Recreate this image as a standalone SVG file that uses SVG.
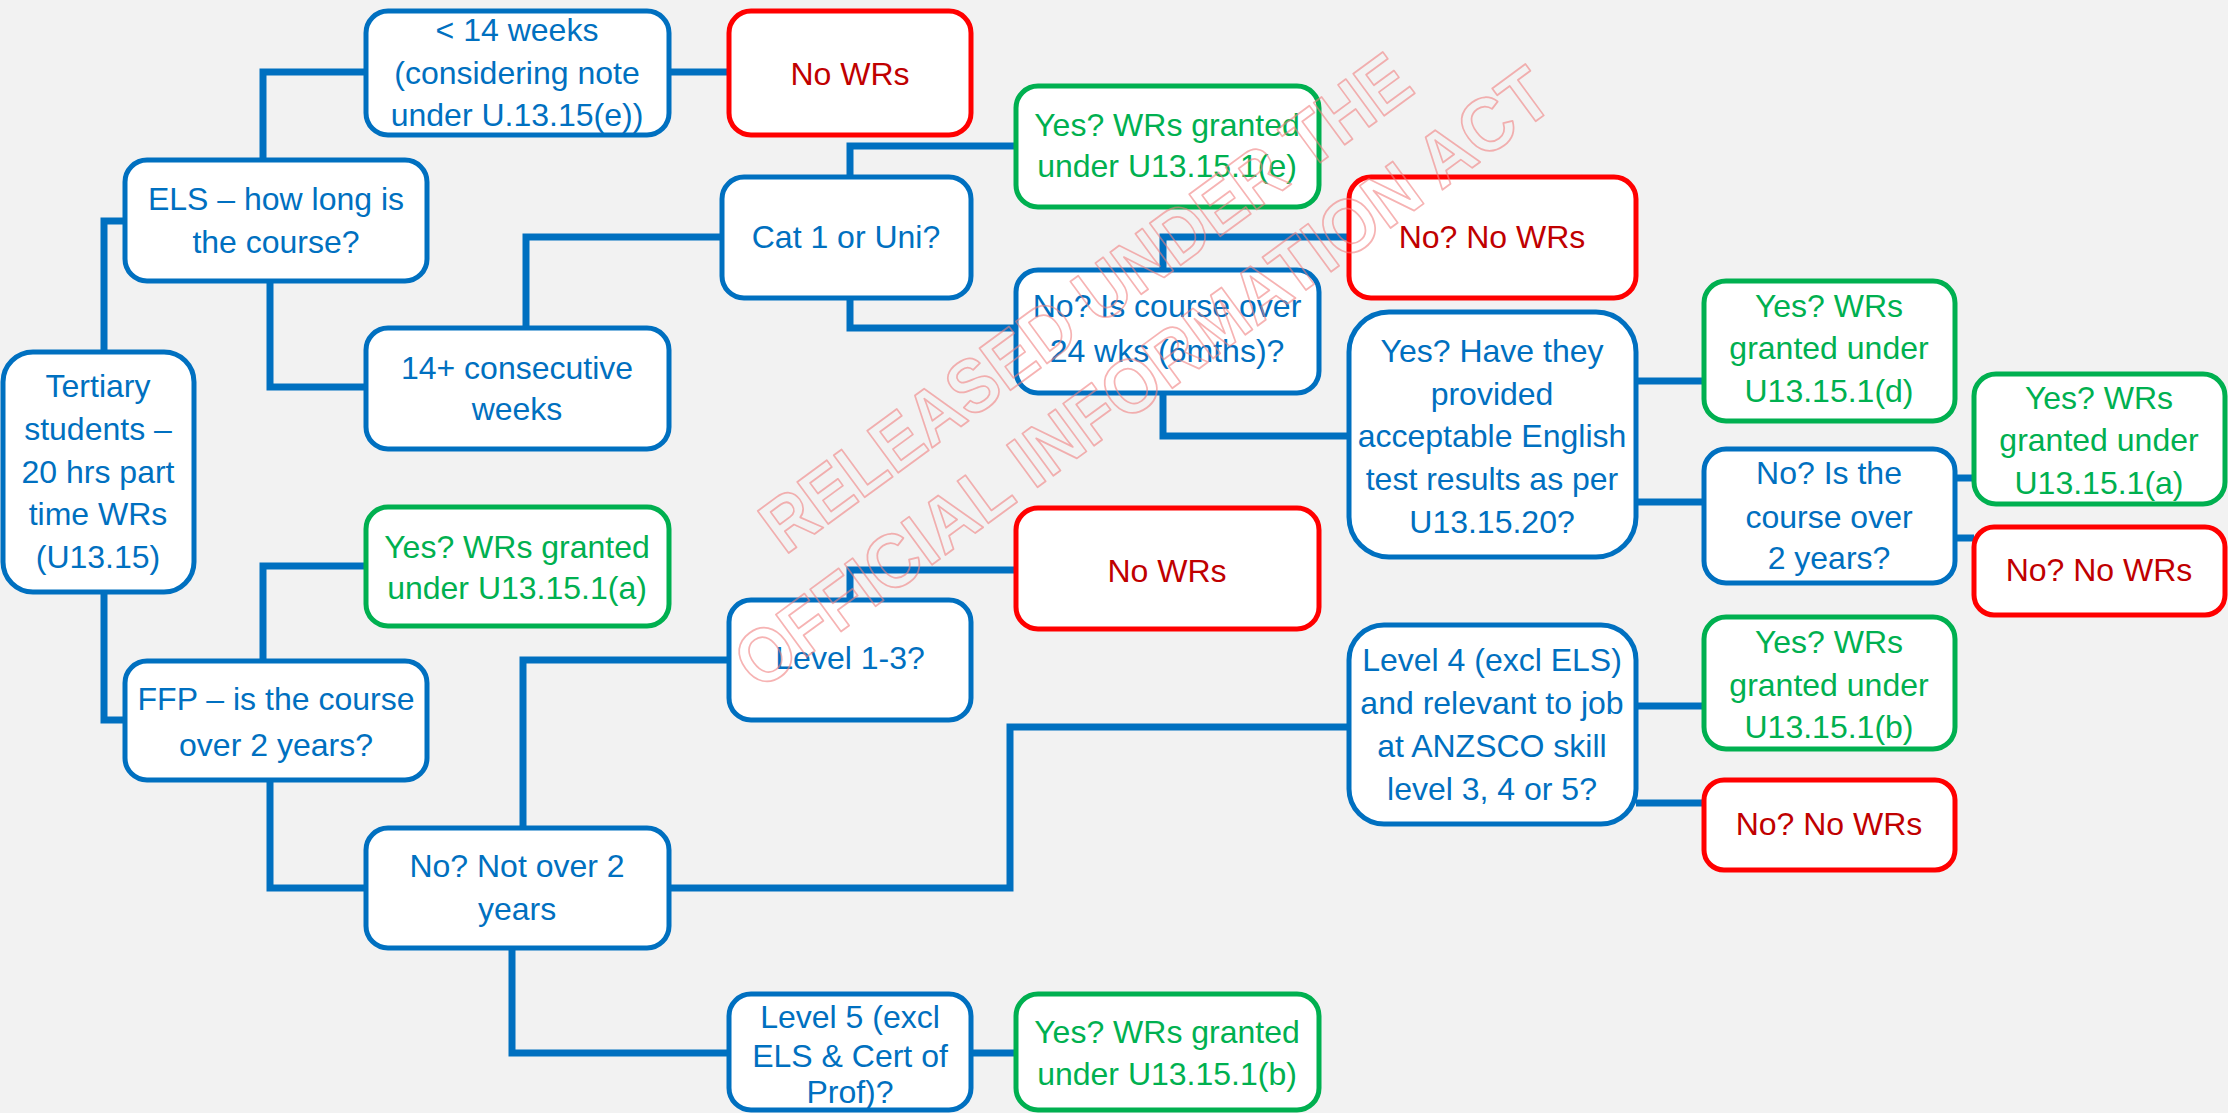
<svg xmlns="http://www.w3.org/2000/svg" width="2228" height="1113" viewBox="0 0 2228 1113">
<style>
.bg{fill:#F2F2F2}
.box{fill:#FFFFFF;stroke-width:5}
.b{stroke:#0070C0}
.g{stroke:#00B050}
.r{stroke:#FF0000}
text{font-family:"Liberation Sans",Arial,sans-serif;font-size:32px;text-anchor:middle}
.tb{fill:#0070C0}
.tg{fill:#00B050}
.tr{fill:#C00000}
.conn path{fill:none;stroke:#0070C0;stroke-width:7;stroke-linejoin:miter}
.wm{font-size:76px;font-weight:bold;fill:none;stroke:#F08080;stroke-opacity:0.6;stroke-width:1.8;stroke-linejoin:round}
</style>
<rect class="bg" x="0" y="0" width="2228" height="1113"/>
<g class="conn" id="connectors">
<path d="M104,352 V221 H125"/>
<path d="M104,592 V720 H125"/>
<path d="M263,160 V72 H366"/>
<path d="M270,281 V387 H366"/>
<path d="M669,72 H729"/>
<path d="M526,328 V237 H722"/>
<path d="M850,177 V146 H1016"/>
<path d="M850,298 V328 H1016"/>
<path d="M1163,270 V237 H1349"/>
<path d="M1163,393 V436 H1349"/>
<path d="M1636,381 H1704"/>
<path d="M1636,502 H1704"/>
<path d="M1955,478 H1974"/>
<path d="M1955,538 H1974"/>
<path d="M263,661 V566 H366"/>
<path d="M270,780 V888 H366"/>
<path d="M523,828 V660 H729"/>
<path d="M850,600 V570 H1016"/>
<path d="M669,888 H1010 V727 H1349"/>
<path d="M512,948 V1053 H729"/>
<path d="M971,1053 H1016"/>
<path d="M1636,706 H1704"/>
<path d="M1636,803 H1704"/>
</g>
<g id="n-tertiary"><rect class="box b" x="3" y="352" width="191" height="240" rx="30"/>
<text class="tb" x="98"><tspan x="98" y="397">Tertiary</tspan><tspan x="98" y="440">students –</tspan><tspan x="98" y="483">20 hrs part</tspan><tspan x="98" y="525">time WRs</tspan><tspan x="98" y="568">(U13.15)</tspan></text></g>
<g id="n-els"><rect class="box b" x="125" y="160" width="302" height="121" rx="22"/>
<text class="tb"><tspan x="276" y="210">ELS – how long is</tspan><tspan x="276" y="253">the course?</tspan></text></g>
<g id="n-lt14"><rect class="box b" x="366" y="11" width="303" height="124" rx="22"/>
<text class="tb"><tspan x="517" y="41">&lt; 14 weeks</tspan><tspan x="517" y="84">(considering note</tspan><tspan x="517" y="126">under U.13.15(e))</tspan></text></g>
<g id="n-nowrs1"><rect class="box r" x="729" y="11" width="242" height="124" rx="22"/>
<text class="tr" x="850" y="85">No WRs</text></g>
<g id="n-14plus"><rect class="box b" x="366" y="328" width="303" height="121" rx="22"/>
<text class="tb"><tspan x="517" y="379">14+ consecutive</tspan><tspan x="517" y="420">weeks</tspan></text></g>
<g id="n-cat1"><rect class="box b" x="722" y="177" width="249" height="121" rx="22"/>
<text class="tb" x="846" y="248">Cat 1 or Uni?</text></g>
<g id="n-yes-e"><rect class="box g" x="1016" y="86" width="303" height="121" rx="22"/>
<text class="tg"><tspan x="1167" y="136">Yes? WRs granted</tspan><tspan x="1167" y="177">under U13.15.1(e)</tspan></text></g>
<g id="n-nonowrs1"><rect class="box r" x="1349" y="177" width="287" height="121" rx="22"/>
<text class="tr" x="1492" y="248">No? No WRs</text></g>
<g id="n-24wks"><rect class="box b" x="1016" y="270" width="303" height="123" rx="22"/>
<text class="tb"><tspan x="1167" y="317">No? Is course over</tspan><tspan x="1167" y="362">24 wks (6mths)?</tspan></text></g>
<g id="n-english"><rect class="box b" x="1349" y="312" width="287" height="245" rx="40"/>
<text class="tb"><tspan x="1492" y="362">Yes? Have they</tspan><tspan x="1492" y="405">provided</tspan><tspan x="1492" y="447">acceptable English</tspan><tspan x="1492" y="490">test results as per</tspan><tspan x="1492" y="533">U13.15.20?</tspan></text></g>
<g id="n-yes-d"><rect class="box g" x="1704" y="281" width="251" height="140" rx="22"/>
<text class="tg"><tspan x="1829" y="317">Yes? WRs</tspan><tspan x="1829" y="359">granted under</tspan><tspan x="1829" y="402">U13.15.1(d)</tspan></text></g>
<g id="n-over2"><rect class="box b" x="1704" y="449" width="251" height="134" rx="22"/>
<text class="tb"><tspan x="1829" y="484">No? Is the</tspan><tspan x="1829" y="528">course over</tspan><tspan x="1829" y="569">2 years?</tspan></text></g>
<g id="n-yes-a2"><rect class="box g" x="1974" y="374" width="251" height="130" rx="22"/>
<text class="tg"><tspan x="2099" y="409">Yes? WRs</tspan><tspan x="2099" y="451">granted under</tspan><tspan x="2099" y="494">U13.15.1(a)</tspan></text></g>
<g id="n-nonowrs2"><rect class="box r" x="1974" y="527" width="251" height="88" rx="20"/>
<text class="tr" x="2099" y="581">No? No WRs</text></g>
<g id="n-yes-a1"><rect class="box g" x="366" y="507" width="303" height="119" rx="22"/>
<text class="tg"><tspan x="517" y="558">Yes? WRs granted</tspan><tspan x="517" y="599">under U13.15.1(a)</tspan></text></g>
<g id="n-ffp"><rect class="box b" x="125" y="661" width="302" height="119" rx="22"/>
<text class="tb"><tspan x="276" y="710">FFP – is the course</tspan><tspan x="276" y="756">over 2 years?</tspan></text></g>
<g id="n-nowrs2"><rect class="box r" x="1016" y="508" width="303" height="121" rx="22"/>
<text class="tr" x="1167" y="582">No WRs</text></g>
<g id="n-level13"><rect class="box b" x="729" y="600" width="242" height="120" rx="22"/>
<text class="tb" x="850" y="669">Level 1-3?</text></g>
<g id="n-level4"><rect class="box b" x="1349" y="625" width="287" height="199" rx="35"/>
<text class="tb"><tspan x="1492" y="671">Level 4 (excl ELS)</tspan><tspan x="1492" y="714">and relevant to job</tspan><tspan x="1492" y="757">at ANZSCO skill</tspan><tspan x="1492" y="800">level 3, 4 or 5?</tspan></text></g>
<g id="n-yes-b1"><rect class="box g" x="1704" y="617" width="251" height="132" rx="22"/>
<text class="tg"><tspan x="1829" y="653">Yes? WRs</tspan><tspan x="1829" y="696">granted under</tspan><tspan x="1829" y="738">U13.15.1(b)</tspan></text></g>
<g id="n-nonowrs3"><rect class="box r" x="1704" y="780" width="251" height="90" rx="20"/>
<text class="tr" x="1829" y="835">No? No WRs</text></g>
<g id="n-notover2"><rect class="box b" x="366" y="828" width="303" height="120" rx="22"/>
<text class="tb"><tspan x="517" y="877">No? Not over 2</tspan><tspan x="517" y="920">years</tspan></text></g>
<g id="n-level5"><rect class="box b" x="729" y="994" width="242" height="116" rx="22"/>
<text class="tb"><tspan x="850" y="1028">Level 5 (excl</tspan><tspan x="850" y="1067">ELS &amp; Cert of</tspan><tspan x="850" y="1103">Prof)?</tspan></text></g>
<g id="n-yes-b2"><rect class="box g" x="1016" y="994" width="303" height="116" rx="22"/>
<text class="tg"><tspan x="1167" y="1043">Yes? WRs granted</tspan><tspan x="1167" y="1085">under U13.15.1(b)</tspan></text></g>
<g id="watermark">
<text class="wm" transform="translate(1085,302) rotate(-36.3)" x="0" y="27" textLength="784" lengthAdjust="spacingAndGlyphs">RELEASED UNDER THE</text>
<text class="wm" transform="translate(1142,377) rotate(-36.3)" x="0" y="27" textLength="990" lengthAdjust="spacingAndGlyphs">OFFICIAL INFORMATION ACT</text>
</g>
</svg>
